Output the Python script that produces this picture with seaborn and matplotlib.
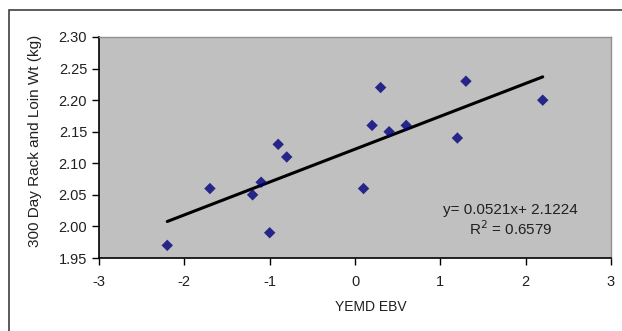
import matplotlib
matplotlib.use("Agg")
import matplotlib.pyplot as plt
import seaborn as sns
import pandas as pd
from matplotlib.patches import Rectangle

x_vals = [-2.2, -1.7, -1.2, -1.1, -1.0, -0.9, -0.8, 0.1, 0.2, 0.3, 0.4, 0.6, 1.2, 1.3, 2.2]
y_vals = [1.97, 2.06, 2.05, 2.07, 1.99, 2.13, 2.11, 2.06, 2.16, 2.22, 2.15, 2.16, 2.14, 2.23, 2.20]
x_ticks = [-3, -2, -1, 0, 1, 2, 3]
y_ticks = [1.95, 2.00, 2.05, 2.10, 2.15, 2.20, 2.25, 2.30]
eq_text = "y= 0.0521x+ 2.1224"
r2_text = "R$^2$ = 0.6579"

df = pd.DataFrame({"x": x_vals, "y": y_vals})

sns.set_theme(style="white")
plt.rcParams['font.family'] = ['Liberation Sans', 'DejaVu Sans']

fig = plt.figure(figsize=(6.22, 3.31), dpi=100)
fig.patches.append(Rectangle((9/622, -0.05), 1.0, 1 - 10/331 + 0.05, transform=fig.transFigure,
                             fill=False, edgecolor="#404040", linewidth=1.2))
ax = fig.add_axes([99/622, 73/331, 512/622, 221/331])
ax.set_facecolor("#c0c0c0")

sns.regplot(data=df, x="x", y="y", ax=ax, ci=None, truncate=True, marker="D",
            scatter_kws=dict(s=34, color="#00007a", edgecolors="none", zorder=3),
            line_kws=dict(color="black", linewidth=2.2, zorder=2))

ax.set_xlim(-3, 3)
ax.set_ylim(1.95, 2.30)
ax.set_xticks(x_ticks)
ax.set_xticklabels([str(t) for t in x_ticks])
ax.set_yticks(y_ticks)
ax.set_yticklabels([f"{t:.2f}" for t in y_ticks])
ax.tick_params(axis="both", direction="out", length=5, width=1, color="black",
               labelsize=10.5, labelcolor="#202020", bottom=True, left=True)
ax.tick_params(axis="x", pad=7)

for s in ["top", "right"]:
    ax.spines[s].set_color("#909090")
    ax.spines[s].set_linewidth(1)
for s in ["left", "bottom"]:
    ax.spines[s].set_color("black")
    ax.spines[s].set_linewidth(1.2)

ax.set_xlabel("YEMD EBV", fontsize=10, color="#202020")
ax.xaxis.set_label_coords(0.53, -0.19)
ax.set_ylabel("300 Day Rack and Loin Wt (kg)", fontsize=11, color="#202020")
ax.yaxis.set_label_coords(-0.112, 0.53)

ax.text(1.82, 2.026, eq_text, ha="center", va="center", fontsize=11, color="#202020")
ax.text(1.82, 1.997, r2_text, ha="center", va="center", fontsize=11, color="#202020")

fig.savefig("out.png", dpi=100)
